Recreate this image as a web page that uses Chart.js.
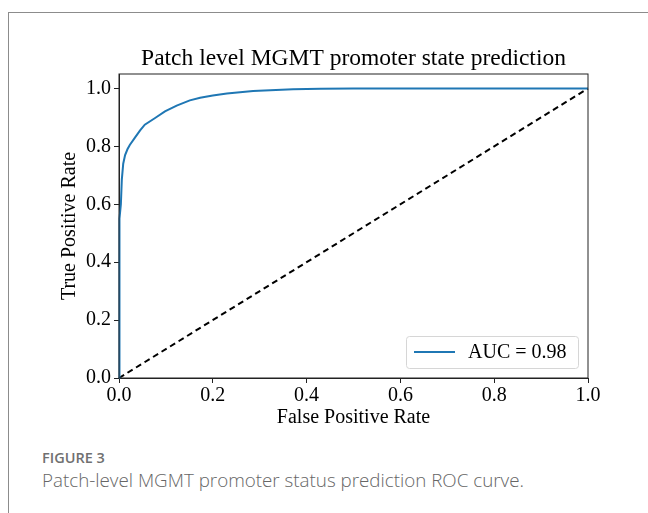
<!DOCTYPE html>
<html>
<head>
<meta charset="utf-8">
<script src="https://cdn.jsdelivr.net/npm/chart.js@4.4.0/dist/chart.umd.min.js"></script>
<style>
  html, body { margin: 0; padding: 0; background: #fff; }
  body { width: 648px; height: 513px; position: relative; overflow: hidden; }
  #frame { position: absolute; left: 8px; top: 12px; width: 700px; height: 600px;
           border-top: 1px solid #8c8c8c; border-left: 1px solid #8c8c8c; }
  #wrap { position: absolute; left: 0; top: 0; width: 648px; height: 440px; }
  #fig { position: absolute; left: 42px; top: 448px; font-family: "Open Sans", sans-serif;
         font-size: 14.5px; font-weight: 600; color: #707070; }
  #cap { position: absolute; left: 42px; top: 467px; font-family: "Open Sans", sans-serif;
         font-size: 18.8px; font-weight: 300; color: #666; }
</style>
</head>
<body>
<div id="frame"></div>
<div id="wrap"><canvas id="RocChart"></canvas></div>
<div id="fig">FIGURE 3</div>
<div id="cap">Patch-level MGMT promoter status prediction ROC curve.</div>
<script>
const fpr = [0, 0, 0.001, 0.002, 0.004, 0.006, 0.009, 0.013, 0.018, 0.023, 0.034, 0.045, 0.055,
             0.077, 0.098, 0.123, 0.151, 0.173, 0.2, 0.23, 0.286, 0.371, 0.43, 0.5, 0.6, 0.8, 1.0];
const tpr = [0, 0.3, 0.45, 0.55, 0.6, 0.685, 0.74, 0.77, 0.79, 0.805, 0.83, 0.855, 0.875,
             0.898, 0.921, 0.941, 0.959, 0.968, 0.976, 0.983, 0.991, 0.997, 0.999, 0.9995, 1, 1, 1];
const chanceX = [0, 1];
const chanceY = [0, 1];
const xTicks = [0, 0.2, 0.4, 0.6, 0.8, 1.0];
const yTicks = [0, 0.2, 0.4, 0.6, 0.8, 1.0];
const curveLabel = 'AUC = 0.98';
const chartTitle = 'Patch level MGMT promoter state prediction';

const serif = '"Liberation Serif", "Times New Roman", serif';

// frame, title and legend box drawn around the chart area
const decor = {
    id: 'decor',
    afterDatasetsDraw(chart) {
        const ctx = chart.ctx;
        const a = chart.chartArea;
        ctx.save();
        ctx.strokeStyle = '#222';
        ctx.lineWidth = 1;
        ctx.strokeRect(a.left, a.top, a.right - a.left, a.bottom - a.top);

        ctx.fillStyle = '#000';
        ctx.font = '23.5px ' + serif;
        ctx.textAlign = 'center';
        ctx.textBaseline = 'middle';
        ctx.fillText(chartTitle, (a.left + a.right) / 2, a.top - 15);

        // legend
        const w = 172, h = 32;
        const x = a.right - 10 - w, y = a.bottom - 10 - h;
        ctx.beginPath();
        ctx.roundRect(x + 0.5, y + 0.5, w, h, 3);
        ctx.fillStyle = 'rgba(255,255,255,0.8)';
        ctx.fill();
        ctx.strokeStyle = '#d6d6d6';
        ctx.stroke();
        ctx.beginPath();
        ctx.moveTo(x + 8, y + h / 2);
        ctx.lineTo(x + 49, y + h / 2);
        ctx.strokeStyle = '#1f77b4';
        ctx.lineWidth = 2;
        ctx.stroke();
        ctx.fillStyle = '#000';
        ctx.font = '20px ' + serif;
        ctx.textAlign = 'left';
        ctx.fillText(curveLabel, x + 62, y + h / 2 + 1);
        ctx.restore();
    }
};

const ctx = document.getElementById('RocChart');
const RocChart = new Chart(ctx, {
    type: 'scatter',
    data: {
        datasets: [{
            label: curveLabel,
            data: fpr.map((v, i) => ({x: v, y: tpr[i]})),
            showLine: true,
            borderColor: '#1f77b4',
            borderWidth: 2,
            pointRadius: 0,
            tension: 0,
            clip: false
        }, {
            label: 'chance',
            data: chanceX.map((v, i) => ({x: v, y: chanceY[i]})),
            showLine: true,
            borderColor: '#000',
            borderWidth: 2,
            borderDash: [6, 4],
            pointRadius: 0,
            clip: false
        }]
    },
    options: {
        responsive: true,
        maintainAspectRatio: false,
        animation: false,
        layout: { padding: { left: 0, right: 60, top: 74, bottom: 0 } },
        plugins: {
            legend: { display: false },
            title: { display: false },
            tooltip: { enabled: false }
        },
        scales: {
            x: {
                type: 'linear',
                min: 0,
                max: 1,
                afterFit: s => { s.height = 62; },
                afterBuildTicks: s => { s.ticks = xTicks.map(v => ({value: v})); },
                grid: { drawOnChartArea: false, tickLength: 5, color: '#222' },
                border: { color: '#222' },
                ticks: {
                    color: '#000',
                    padding: 1,
                    maxRotation: 0,
                    font: { family: serif, size: 20 },
                    callback: v => v.toFixed(1)
                },
                title: {
                    display: true,
                    text: 'False Positive Rate',
                    color: '#000',
                    font: { family: serif, size: 20 },
                    padding: { top: 0, bottom: 10 }
                }
            },
            y: {
                type: 'linear',
                min: 0,
                max: 1.05,
                afterFit: s => { s.width = 119; },
                afterBuildTicks: s => { s.ticks = yTicks.map(v => ({value: v})); },
                grid: { drawOnChartArea: false, tickLength: 5, color: '#222' },
                border: { color: '#222' },
                ticks: {
                    color: '#000',
                    padding: 3,
                    font: { family: serif, size: 20 },
                    callback: v => v.toFixed(1)
                },
                title: {
                    display: true,
                    text: 'True Positive Rate',
                    color: '#000',
                    font: { family: serif, size: 20 },
                    padding: { top: 58, bottom: 0 }
                }
            }
        }
    },
    plugins: [decor]
});
</script>
</body>
</html>
